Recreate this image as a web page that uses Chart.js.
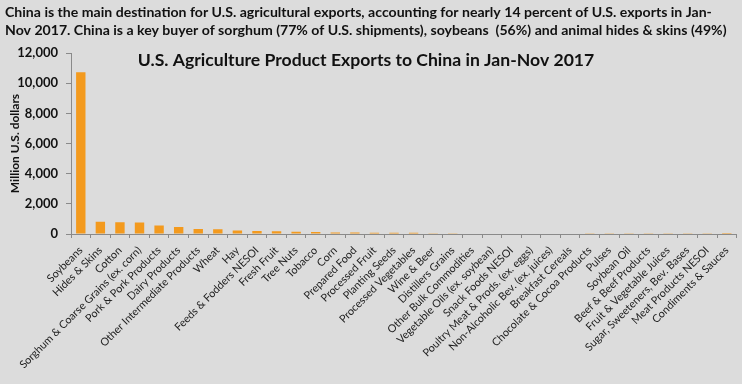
<!DOCTYPE html>
<html>
<head>
<meta charset="utf-8">
<script src="https://cdn.jsdelivr.net/npm/chart.js@4/dist/chart.umd.min.js"></script>
<style>
  body { margin: 0; background: #dcdcdc; }
  canvas { display: block; background: #dcdcdc; }
</style>
</head>
<body>
<canvas id="exportChart" width="742" height="384"></canvas>
<script>
// products, ordered by export value
const products = [
    'Soybeans', 'Hides & Skins', 'Cotton', 'Sorghum & Coarse Grains (ex. corn)',
    'Pork & Pork Products', 'Dairy Products', 'Other Intermediate Products', 'Wheat',
    'Hay', 'Feeds & Fodders NESOI', 'Fresh Fruit', 'Tree Nuts', 'Tobacco', 'Corn',
    'Prepared Food', 'Processed Fruit', 'Planting Seeds', 'Processed Vegetables',
    'Wine & Beer', 'Distillers Grains', 'Other Bulk Commodities',
    'Vegetable Oils (ex. soybean)', 'Snack Foods NESOI', 'Poultry Meat & Prods. (ex. eggs)',
    'Non-Alcoholic Bev. (ex. juices)', 'Breakfast Cereals', 'Chocolate & Cocoa Products',
    'Pulses', 'Soybean Oil', 'Beef & Beef Products', 'Fruit & Vegetable Juices',
    'Sugar, Sweeteners, Bev. Bases', 'Meat Products NESOI', 'Condiments & Sauces'
];

// million U.S. dollars, Jan-Nov 2017
const exportValues = [
    10730, 820, 780, 760, 570, 460, 330, 310, 240, 200, 190, 150, 140, 100,
    95, 90, 85, 80, 50, 45, 40, 38, 35, 30, 28, 25, 22, 20, 18, 16, 14, 12, 10, 8
];

const yTicks = [0, 2000, 4000, 6000, 8000, 10000, 12000];

const headerLines = [
    'China is the main destination for U.S. agricultural exports, accounting for nearly 14 percent of U.S. exports in Jan-',
    'Nov 2017. China is a key buyer of sorghum (77% of U.S. shipments), soybeans  (56%) and animal hides & skins (49%)'
];
const chartTitle = 'U.S. Agriculture Product Exports to China in Jan-Nov 2017';

const FONT = 'Lato, "Open Sans", sans-serif';

// header text + chart title drawn straight on the canvas
const headerPlugin = {
    id: 'header',
    beforeDraw(chart) {
        const ctx = chart.ctx;
        ctx.save();
        ctx.fillStyle = '#dcdcdc';
        ctx.fillRect(0, 0, chart.width, chart.height);
        ctx.fillStyle = '#111';
        ctx.textBaseline = 'middle';
        ctx.textAlign = 'left';
        ctx.font = 'bold 14.1px ' + FONT;
        headerLines.forEach((line, i) => {
            ctx.fillText(line, 5, 12 + i * 18.5);
        });
        ctx.textAlign = 'center';
        ctx.font = 'bold 17.6px ' + FONT;
        ctx.fillText(chartTitle, 366, 60);
        ctx.restore();
    }
};

const data = {
    labels: products,
    datasets: [{
        data: exportValues,
        backgroundColor: '#f39a1e',
        categoryPercentage: 1,
        barPercentage: 0.48
    }]
};

const config = {
    type: 'bar',
    data: data,
    plugins: [headerPlugin],
    options: {
        responsive: false,
        animation: false,
        devicePixelRatio: 1,
        layout: {
            padding: { top: 53, right: 2, left: 0, bottom: 0 }
        },
        plugins: {
            legend: { display: false },
            tooltip: { enabled: false }
        },
        scales: {
            x: {
                afterFit: (scale) => { scale.height = 150; },
                grid: {
                    offset: true,
                    drawOnChartArea: false,
                    drawTicks: true,
                    tickLength: 4,
                    color: '#8a8a8a'
                },
                border: { color: '#8a8a8a' },
                ticks: {
                    autoSkip: false,
                    minRotation: 45,
                    maxRotation: 45,
                    padding: 6,
                    color: '#222',
                    font: { family: FONT, size: 10.8 }
                }
            },
            y: {
                min: 0,
                max: 12000,
                afterFit: (scale) => { scale.width = 71; },
                afterBuildTicks: (scale) => {
                    scale.ticks = yTicks.map(v => ({ value: v }));
                },
                grid: {
                    drawOnChartArea: false,
                    drawTicks: true,
                    tickLength: 5,
                    color: '#8a8a8a'
                },
                border: { color: '#8a8a8a' },
                ticks: {
                    padding: 8,
                    color: '#111',
                    font: { family: FONT, size: 13, weight: 'bold' },
                    callback: (v) => Number(v).toLocaleString('en-US')
                },
                title: {
                    display: true,
                    text: 'Million U.S. dollars',
                    color: '#111',
                    padding: { top: 8, bottom: 0 },
                    font: { family: FONT, size: 12, weight: 'bold' }
                }
            }
        }
    }
};

const exportChart = new Chart(document.getElementById('exportChart'), config);
</script>
</body>
</html>
